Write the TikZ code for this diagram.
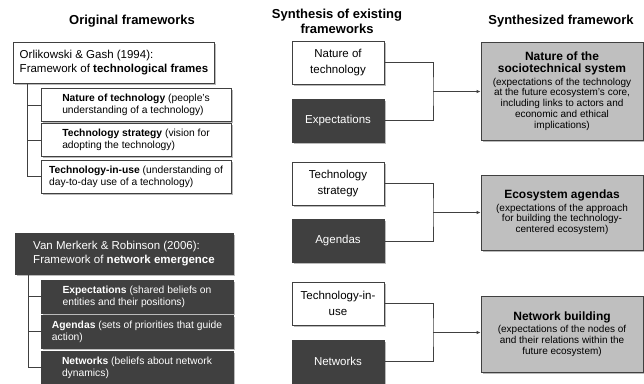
\documentclass[tikz,border=0pt]{standalone}
\usepackage{fontspec}
\setmainfont{Liberation Sans}
\usetikzlibrary{arrows.meta,shadows}

\newcommand{\boxtitle}[1]{{\fontsize{12}{13.5}\selectfont\textbf{#1}}}

\begin{document}
\begin{tikzpicture}[x=1pt, y=-1pt, >={Latex[length=4pt,width=3.5pt]}]
        \tikzstyle{every node}=[inner sep=2pt]
        \tikzstyle{heading}=[font=\fontsize{13}{15}\selectfont\bfseries, align=center]
        \tikzstyle{frame}=[draw=black!75, line width=0.8pt, drop shadow={shadow xshift=1.5pt, shadow yshift=-1.5pt, fill=black!45, opacity=0.6}]
        \tikzstyle{light}=[frame, fill=white, text=black]
        \tikzstyle{dark}=[frame, fill=black!75, text=white]
        \tikzstyle{synth}=[frame, fill=black!25, text=black, minimum width=162pt, align=center, font=\fontsize{10}{10.8}\selectfont]
        \tikzstyle{head}=[minimum height=41pt, align=left, inner xsep=6pt, font=\fontsize{11.5}{14}\selectfont]
        \tikzstyle{item}=[minimum height=33pt, align=left, inner xsep=6pt, font=\fontsize{10.3}{12}\selectfont]
        \tikzstyle{mid}=[minimum width=92pt, minimum height=43pt, align=center, font=\fontsize{11.5}{15.5}\selectfont]
        \tikzstyle{link}=[draw=black!75, line width=0.8pt]

        \useasboundingbox (0,0) rectangle (644,383);

% headings
        \node[heading] (h1) at (132,21) {Original frameworks};
        \node[heading] (h2) at (337,21) {Synthesis of existing\\frameworks};
        \node[heading] (h3) at (561,21) {Synthesized framework};

% original frameworks
        \node[light, head, minimum width=198pt] (orl) at (114,62.5) {Orlikowski \& Gash (1994):\\Framework of \textbf{technological frames}};
        \node[light, item, minimum width=190pt] (nat) at (136,105) {\textbf{Nature of technology} (people's\\understanding of a technology)};
        \node[light, item, minimum width=190pt] (str) at (136,140) {\textbf{Technology strategy} (vision for\\adopting the technology)};
        \node[light, item, minimum width=190pt] (use) at (136,176.5) {\textbf{Technology-in-use} (understanding of\\day-to-day use of a technology)};

        \node[dark, head, minimum width=218pt] (vmr) at (124,253.5) {Van Merkerk \& Robinson (2006):\\Framework of \textbf{network emergence}};
        \node[dark, item, minimum width=192pt] (exp) at (137,296.5) {\textbf{Expectations} (shared beliefs on\\entities and their positions)};
        \node[dark, item, minimum width=192pt] (age) at (137,331.5) {\textbf{Agendas} (sets of priorities that guide\\action)};
        \node[dark, item, minimum width=192pt] (net) at (137,367.5) {\textbf{Networks} (beliefs about network\\dynamics)};

        \coordinate (t1) at ([xshift=14pt]orl.south west);
        \coordinate (t2) at ([xshift=14pt]vmr.south west);
        \draw[link] (t1) |- (nat.west) (t1) |- (str.west) (t1) |- (use.west);
        \draw[link] (t2) |- (exp.west) (t2) |- (age.west) (t2) |- (net.west);

% synthesis
        \node[light, mid] (natm) at (338,62.5) {Nature of\\technology};
        \node[dark, mid] (expm) at (338,120.5) {Expectations};
        \node[light, mid] (strm) at (338,183.5) {Technology\\strategy};
        \node[dark, mid] (agem) at (338,241) {Agendas};
        \node[light, mid] (usem) at (338,303.5) {Technology-in-\\use};
        \node[dark, mid] (netm) at (338,361.5) {Networks};

% synthesized framework
        \node[synth, minimum height=98pt] (sys) at (562,91) {\boxtitle{Nature of the}\\[1.5pt]\boxtitle{sociotechnical system}\\[1.5pt](expectations of the technology\\at the future ecosystem's core,\\including links to actors and\\economic and ethical\\implications)};
        \node[synth, minimum height=75pt] (eco) at (562,212.5) {\boxtitle{Ecosystem agendas}\\[1.5pt](expectations of the approach\\for building the technology-\\centered ecosystem)};
        \node[synth, minimum height=76pt] (bld) at (562,334) {\boxtitle{Network building}\\[1.5pt](expectations of the nodes of\\and their relations within the\\future ecosystem)};

        \coordinate (j1) at (433,91.5);
        \coordinate (j2) at (433,212.5);
        \coordinate (j3) at (433,332.5);
        \draw[link] (natm.east) -| (j1) |- (expm.east);
        \draw[link] (strm.east) -| (j2) |- (agem.east);
        \draw[link] (usem.east) -| (j3) |- (netm.east);
        \draw[link, ->] (j1) -- (j1 -| sys.west);
        \draw[link, ->] (j2) -- (j2 -| eco.west);
        \draw[link, ->] (j3) -- (j3 -| bld.west);
\end{tikzpicture}
\end{document}
